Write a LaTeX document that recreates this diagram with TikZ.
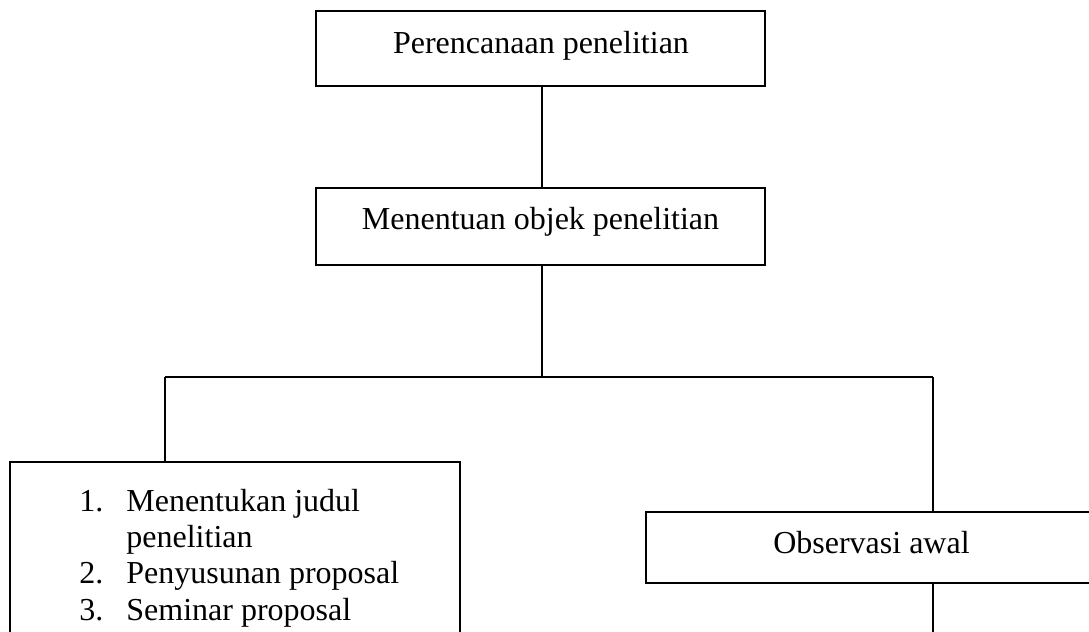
\documentclass[tikz,border=0pt]{standalone}
\usepackage{fontspec}
\setmainfont{Liberation Serif}
\begin{document}
\begin{tikzpicture}[x=0.5pt,y=-0.5pt,
  box/.style={draw, line width=0.9pt, inner sep=0pt},
  lbl/.style={inner sep=0pt, font=\fontsize{16}{18.2}\selectfont},
  conn/.style={line width=0.9pt}]
\useasboundingbox (0,0) rectangle (1089,632);
\clip (0,0) rectangle (1089,632);
% boxes
\node[box, minimum width=224.5pt, minimum height=37.5pt] (a) at (540.5,48.5) {};
\node[box, minimum width=224.5pt, minimum height=38.5pt] (b) at (540.5,226.5) {};
\node[box, minimum width=225pt, minimum height=94pt] (c) at (235,556) {};
\node[box, minimum width=227pt, minimum height=35.5pt] (d) at (873,547.5) {};
% texts
\node[lbl, anchor=base] (ta) at (541,53) {Perencanaan penelitian};
\node[lbl, anchor=base] (tb) at (540.5,229) {Menentuan objek penelitian};
\node[lbl, anchor=base] (td) at (871.5,553) {Observasi awal};
\node[lbl, anchor=base west] (tc) at (79,511) {\begin{tabular}[t]{@{}l@{}}
\makebox[23.5pt][l]{1.}Menentukan judul\\
\makebox[23.5pt][l]{}penelitian\\
\makebox[23.5pt][l]{2.}Penyusunan proposal\\
\makebox[23.5pt][l]{3.}Seminar proposal
\end{tabular}};
% junctions
\coordinate (j) at (542,377);
\coordinate (jl) at (165,377);
\coordinate (jr) at (933,377);
\coordinate (e) at (933,650);
% connectors
\draw[conn] (a.south -| j) -- (b.north -| j);
\draw[conn] (b.south -| j) -- (j);
\draw[conn] (jl) -- (jr);
\draw[conn] (jl) -- (c.north -| jl);
\draw[conn] (jr) -- (d.north -| jr);
\draw[conn] (d.south -| jr) -- (e);
\end{tikzpicture}
\end{document}
